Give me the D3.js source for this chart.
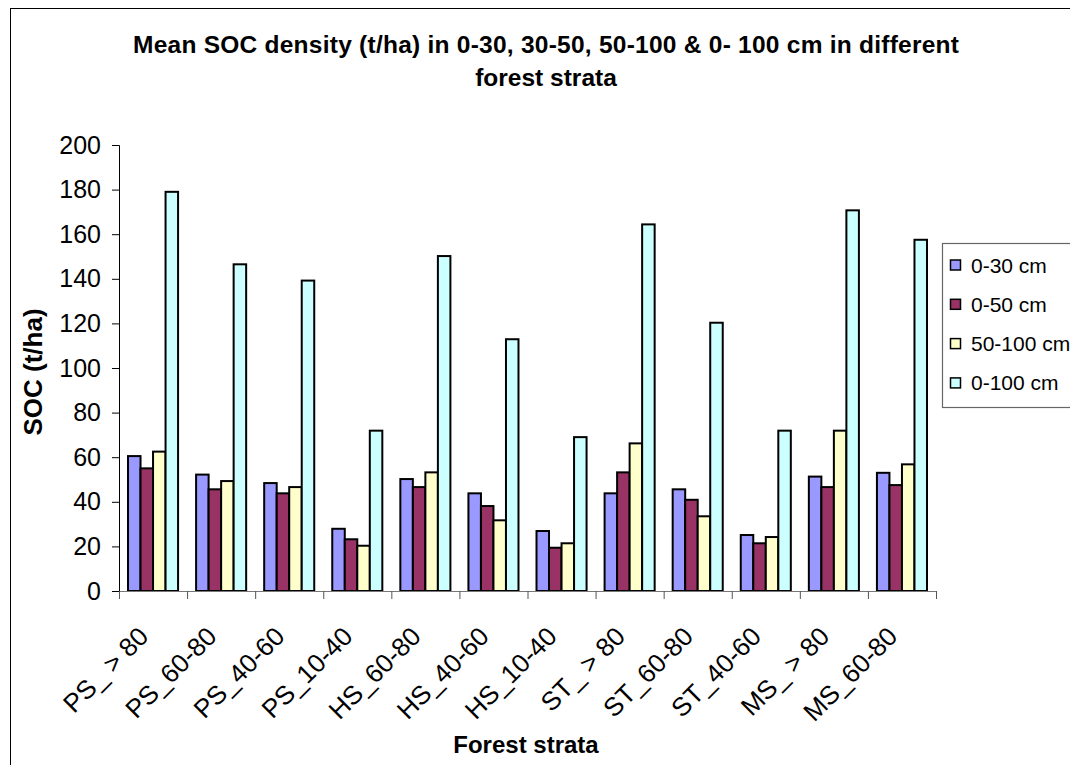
<!DOCTYPE html>
<html>
<head>
<meta charset="utf-8">
<script src="https://cdn.jsdelivr.net/npm/d3@7"></script>
<style>
  html, body { margin: 0; padding: 0; background: #fff; }
  svg { display: block; font-family: "Liberation Sans", Arial, sans-serif; }
</style>
</head>
<body>
<svg id="chart" width="1070" height="765"></svg>
<script>
const categories = ["PS_ > 80", "PS_60-80", "PS_40-60", "PS_10-40", "HS_60-80", "HS_40-60", "HS_10-40", "ST_ > 80", "ST_60-80", "ST_40-60", "MS_ > 80", "MS_60-80"];
const seriesNames = ["0-30 cm", "0-50 cm", "50-100 cm", "0-100 cm"];
const s0_30 = [60.5, 52.2, 48.4, 27.9, 50.2, 43.8, 26.9, 43.8, 45.6, 25.1, 51.3, 53.0];
const s0_50 = [55.0, 45.6, 43.8, 23.2, 46.6, 38.1, 19.4, 53.2, 40.9, 21.4, 46.6, 47.5];
const s50_100 = [62.5, 49.3, 46.6, 20.3, 53.2, 31.7, 21.4, 66.2, 33.5, 24.2, 71.9, 56.8];
const s0_100 = [179.0, 146.5, 139.2, 71.9, 150.2, 112.9, 69.0, 164.4, 120.3, 71.9, 170.7, 157.5];
const yTicks = [0, 20, 40, 60, 80, 100, 120, 140, 160, 180, 200];
const colors = ["#9999FF", "#993366", "#FFFFCC", "#CCFFFF"];

const seriesValues = [s0_30, s0_50, s50_100, s0_100];

const svg = d3.select("#chart");

// outer frame
svg.append("rect").attr("x", 10.5).attr("y", 8.5).attr("width", 1100).attr("height", 800)
  .attr("fill", "none").attr("stroke", "#000").attr("stroke-width", 1);

const plot = { left: 119, right: 936, top: 145, bottom: 591 };

const x = d3.scaleBand().domain(categories).range([plot.left, plot.right]).paddingInner(0).paddingOuter(0);
const inner = d3.scaleBand().domain(d3.range(seriesNames.length))
  .range([0, x.bandwidth()]).paddingInner(0).paddingOuter(0.72);
const y = d3.scaleLinear().domain([0, 200]).range([plot.bottom, plot.top]);

// bars
const groups = svg.append("g").selectAll("g").data(categories).join("g")
  .attr("transform", d => `translate(${x(d)},0)`);

groups.selectAll("rect").data((d, i) => seriesValues.map((s, k) => ({ k, v: s[i] })))
  .join("rect")
  .attr("x", d => inner(d.k))
  .attr("y", d => y(d.v))
  .attr("width", inner.bandwidth())
  .attr("height", d => y(0) - y(d.v))
  .attr("fill", d => colors[d.k])
  .attr("stroke", "#000")
  .attr("stroke-width", 2);

// y axis
const yAxis = d3.axisLeft(y).tickValues(yTicks).tickSize(7).tickPadding(11);
const yg = svg.append("g").attr("transform", `translate(${plot.left},0)`).call(yAxis);
yg.select(".domain").attr("stroke", "#000").attr("stroke-width", 1);
yg.selectAll(".tick line").attr("stroke", "#000");
yg.selectAll("text").attr("font-size", 25).attr("fill", "#000")
  .style("font-family", "Liberation Sans, Arial, sans-serif");

// x axis (ticks at category boundaries)
const xg = svg.append("g");
xg.append("line").attr("x1", plot.left).attr("x2", plot.right)
  .attr("y1", plot.bottom + 0.5).attr("y2", plot.bottom + 0.5)
  .attr("stroke", "#777").attr("stroke-width", 1);
const boundaries = categories.map(c => x(c)).concat([x(categories[categories.length - 1]) + x.bandwidth()]);
xg.selectAll("line.tk").data(boundaries).join("line").attr("class", "tk")
  .attr("x1", d => d + 0.5).attr("x2", d => d + 0.5)
  .attr("y1", plot.bottom).attr("y2", plot.bottom + 8)
  .attr("stroke", "#555").attr("stroke-width", 1);

xg.selectAll("text").data(categories).join("text")
  .attr("transform", d => `translate(${x(d) + x.bandwidth() / 2 - 3},${plot.bottom + 47}) rotate(-45)`)
  .attr("text-anchor", "end")
  .attr("font-size", 26)
  .attr("fill", "#000")
  .text(d => d);

// titles
const title = svg.append("text").attr("text-anchor", "middle").attr("font-weight", "bold")
  .attr("font-size", 24.5).attr("fill", "#000");
title.append("tspan").attr("x", 546).attr("y", 53)
  .attr("textLength", 826).attr("lengthAdjust", "spacing")
  .text("Mean SOC density (t/ha) in 0-30, 30-50, 50-100 & 0- 100 cm in different");
title.append("tspan").attr("x", 546).attr("y", 86).text("forest strata");

svg.append("text").attr("text-anchor", "middle").attr("font-weight", "bold").attr("font-size", 26)
  .attr("transform", `translate(42,${(plot.top + plot.bottom) / 2 + 4}) rotate(-90)`)
  .text("SOC (t/ha)");

svg.append("text").attr("text-anchor", "middle").attr("font-weight", "bold").attr("font-size", 24)
  .attr("x", 526).attr("y", 753).text("Forest strata");

// legend
const lg = svg.append("g");
lg.append("rect").attr("x", 942.5).attr("y", 243.5).attr("width", 140).attr("height", 164)
  .attr("fill", "#fff").attr("stroke", "#666").attr("stroke-width", 1.2);
const items = lg.selectAll("g.item").data(seriesNames).join("g").attr("class", "item")
  .attr("transform", (d, i) => `translate(950,${265 + i * 39.3})`);
items.append("rect").attr("x", 0.5).attr("y", -5).attr("width", 10).attr("height", 10)
  .attr("fill", (d, i) => colors[i]).attr("stroke", "#000").attr("stroke-width", 1.5);
items.append("text").attr("x", 21).attr("dy", "0.36em").attr("font-size", 21).attr("fill", "#000")
  .text(d => d);
</script>
</body>
</html>
